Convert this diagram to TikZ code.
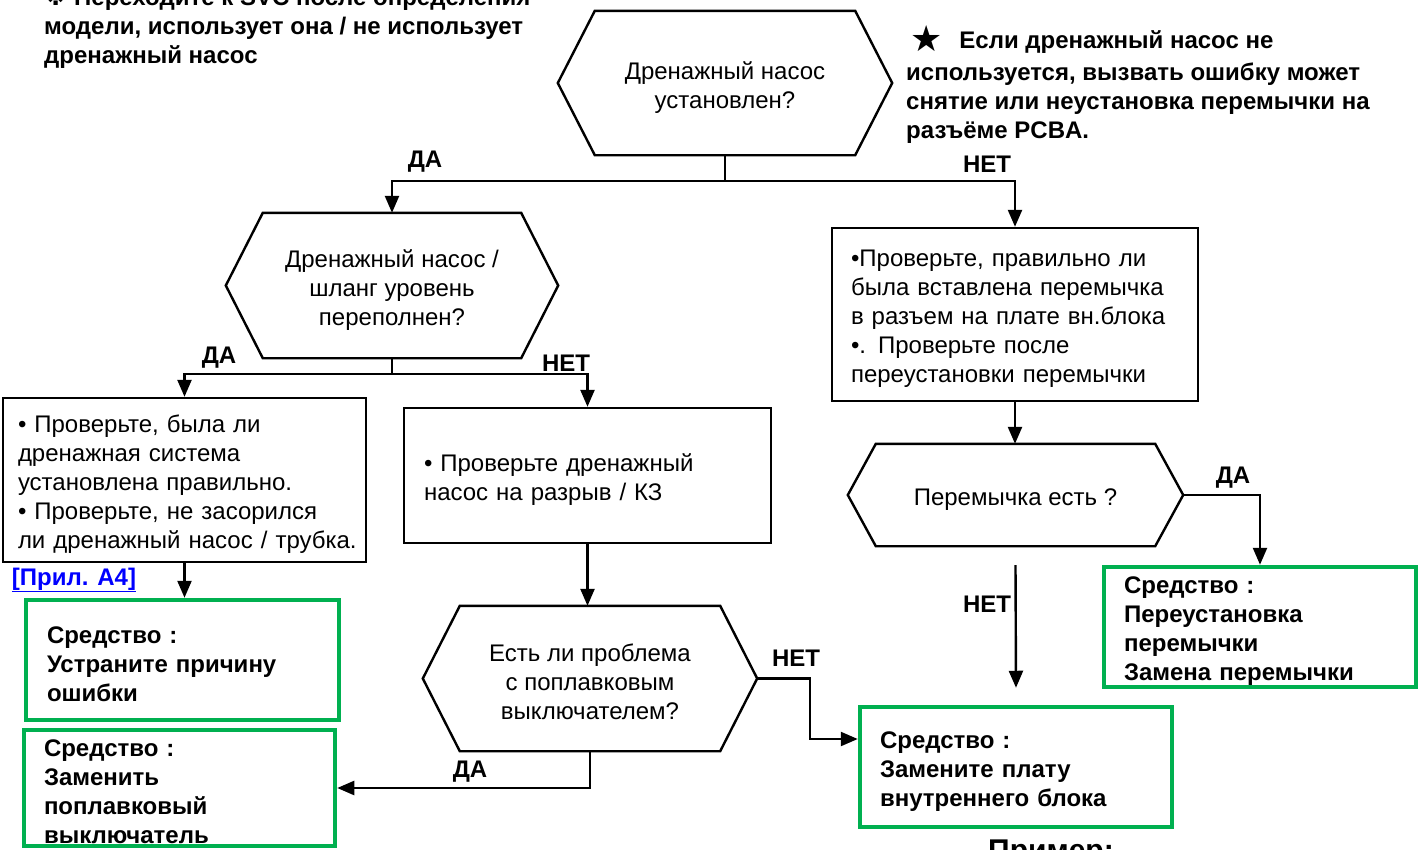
\documentclass[tikz,border=0pt]{standalone}
\usepackage{fontspec}
\setmainfont{Liberation Sans}
\newfontfamily\symfont{DejaVu Sans}
\usetikzlibrary{arrows.meta}
\definecolor{grn}{RGB}{0,176,80}
\definecolor{lnk}{RGB}{0,0,255}
\newcommand\hexdraw[2]{\draw[shapeline] ([xshift=#2]#1.north west) -- ([xshift=-#2]#1.north east) -- (#1.east) -- ([xshift=-#2]#1.south east) -- ([xshift=#2]#1.south west) -- (#1.west) -- cycle;}
\newcommand\topstrut{\rule{0pt}{25pt}}
\newcommand\hstrut[1]{\rule{0pt}{#1}}
\begin{document}
\begin{tikzpicture}[x=1pt,y=-1pt,
  every node/.style={font=\fontsize{24}{29}\selectfont},
  txt/.style={inner sep=0pt, align=left, font=\fontsize{24}{29}\selectfont\bfseries},
  lbl/.style={inner sep=0pt, font=\fontsize{24}{29}\selectfont\bfseries},
  hexbox/.style={draw=none, align=center, inner sep=0pt},
  shapeline/.style={line width=2.4pt, line join=miter},
  chk/.style={draw=black, line width=2.4pt, align=left, inner ysep=0pt, execute at begin node=\topstrut},
  rem/.style={draw=grn, line width=4.5pt, align=left, inner ysep=0pt, inner xsep=20pt, text width=272pt, minimum height=120pt, font=\fontsize{24}{29}\selectfont\bfseries, execute at begin node=\topstrut},
  ln/.style={line width=2.4pt},
  arr/.style={line width=2.4pt, -{Triangle[length=17pt,width=14pt]}}]
\useasboundingbox (0,0) rectangle (1422,849);

% notes
\node[txt, anchor=west] (n1) at (44,27) {{\symfont ※} Переходите к SVC после определения\\модели, использует она / не использует\\дренажный насос};
\node[txt, anchor=west] (n2) at (906,87) {\hspace*{4pt}\smash{\raisebox{-3pt}{\fontsize{36}{36}\selectfont\symfont ★}}\hspace{17pt}Если дренажный насос не\\[3pt]используется, вызвать ошибку может\\снятие или неустановка перемычки на\\разъёме PCBA.};

% decisions
\node[hexbox, minimum width=334pt, minimum height=144pt] (h1) at (725,83) {\hstrut{26pt}Дренажный насос\\установлен?};
\hexdraw{h1}{37pt}
\node[hexbox, minimum width=332pt, minimum height=145pt] (h2) at (392,285.5) {\hstrut{26pt}Дренажный насос /\\шланг уровень\\переполнен?};
\hexdraw{h2}{37pt}
\node[hexbox, minimum width=334pt, minimum height=145pt] (h3) at (590,678.5) {\hstrut{24pt}Есть ли проблема\\с поплавковым\\выключателем?};
\hexdraw{h3}{37pt}
\node[hexbox, minimum width=335pt, minimum height=102pt] (h4) at (1015.5,495) {\hstrut{25pt}Перемычка есть ?};
\hexdraw{h4}{28pt}

% check boxes
\node[chk, inner xsep=15pt, text width=333pt, minimum height=164pt] (lb) at (184.5,480) {\mbox{• Проверьте, была ли}\\\mbox{дренажная система}\\\mbox{установлена правильно.}\\\mbox{• Проверьте, не засорился}\\\mbox{ли дренажный насос / трубка.}};
\node[chk, inner xsep=20pt, text width=327pt, minimum height=135pt] (mb) at (587.5,475.5) {\mbox{• Проверьте дренажный}\\\mbox{насос на разрыв / КЗ}};
\node[chk, inner xsep=19pt, text width=328pt, minimum height=173pt] (rb) at (1015,314.5) {\mbox{•Проверьте, правильно ли}\\\mbox{была вставлена перемычка}\\\mbox{в разъем на плате вн.блока}\\\mbox{•. Проверьте после}\\\mbox{переустановки перемычки}};

% remedies
\node[rem, inner xsep=21pt, text width=271pt] (g1) at (182.5,660) {Средство :\\Устраните причину\\ошибки};
\node[rem, text width=271pt, minimum height=116pt] (g2) at (179.5,788) {\hstrut{23pt}Средство :\\Заменить\\поплавковый\\выключатель};
\node[rem] (g3) at (1016,767) {Средство :\\Замените плату\\внутреннего блока};
\node[rem] (g4) at (1260,627) {Средство :\\Переустановка\\перемычки\\Замена перемычки};

\node[lbl, text=lnk] (ref) at (74,580) {\underline{[Прил. А4]}};
\node[lbl, anchor=base west, font=\fontsize{30}{36}\selectfont\bfseries] (ex) at (988,860.5) {Пример:};

% connectors
\draw[ln] (h1.south) -- ++(0,26) coordinate (j1);
\draw[arr] (j1) -| (h2.north);
\draw[arr] (j1) -| (rb.north);
\draw[ln] (h2.south) -- ++(0,16) coordinate (j2);
\draw[arr] (j2) -| (lb.north);
\draw[arr] (j2) -| (mb.north);
\draw[arr] (lb.south) -- (lb.south |- g1.north);
\draw[arr] (mb.south) -- (mb.south |- h3.north);
\draw[arr] (h3.south) |- (g2.east);
\draw[arr] (h3.east) -- ++(53,0) |- ([yshift=28pt]g3.west);
\draw[arr] (rb.south) -- (rb.south |- h4.north);
\draw[arr] (h4.east) -| (g4.north);
\draw[arr] ([yshift=-19pt]h4.south) -- ([yshift=17pt]g3.north);

% branch labels
\node[lbl] (y1) at (425,162) {ДА};
\node[lbl] (n1l) at (987,164) {НЕТ};
\node[lbl] (y2) at (219,358) {ДА};
\node[lbl] (n2l) at (566,363) {НЕТ};
\node[lbl] (n3l) at (796,658) {НЕТ};
\node[lbl] (y3) at (470,772) {ДА};
\node[lbl] (y4) at (1233,478) {ДА};
\node[lbl] (n4l) at (987,604) {НЕТ};
\end{tikzpicture}
\end{document}
